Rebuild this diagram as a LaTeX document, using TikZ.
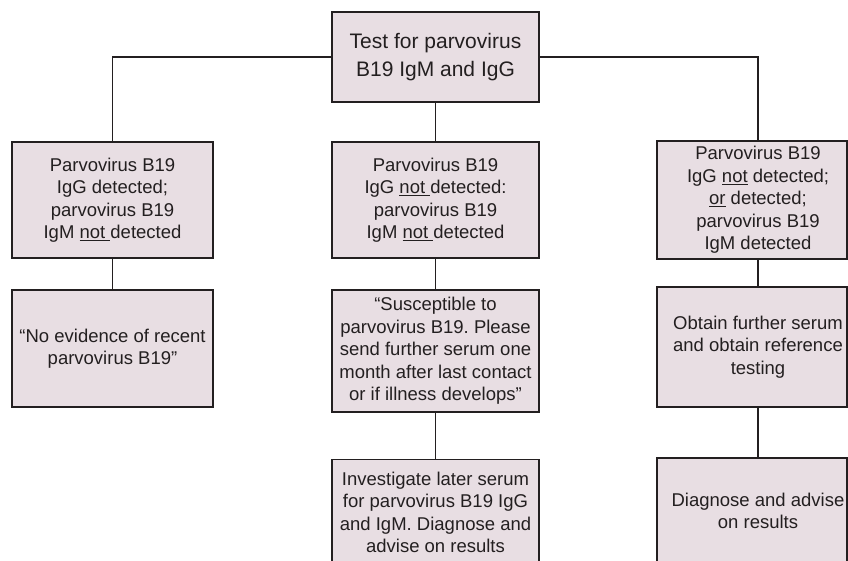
\documentclass[tikz,border=0pt]{standalone}
\usepackage{fontspec}
\setmainfont{Liberation Sans}
\definecolor{boxfill}{RGB}{232,222,227}
\definecolor{ink}{RGB}{35,31,32}
\frenchspacing
\begin{document}
\begin{tikzpicture}[x=1pt,y=-1pt,
  box/.style={draw=ink,fill=boxfill,line width=1.6pt,inner sep=0pt,align=center,text=ink,
    font=\fontsize{18.5}{22.5}\selectfont},
  txt/.style={inner sep=0pt,align=center,text=ink,font=\fontsize{18.5}{22.5}\selectfont},
  link/.style={draw=ink,line width=1.5pt}]
\useasboundingbox (0,0) rectangle (848,560);
\clip (0,0) rectangle (848,560);
% top
\node[box,minimum width=207pt,minimum height=90pt,font=\fontsize{21}{27.5}\selectfont]
  (top) at (435.5,57) {Test for parvovirus\\B19 IgM and IgG};
% left column
\node[box,minimum width=201pt,minimum height=116pt] (l1) at (112.5,200)
  {Parvovirus B19\\IgG detected;\\parvovirus B19\\IgM \underline{not\ }detected};
\node[box,minimum width=201pt,minimum height=117pt] (l2) at (112.5,348.5)
  {\char"201C No evidence of recent\\parvovirus B19\char"201D};
% middle column
\node[box,minimum width=207pt,minimum height=116pt] (m1) at (435.5,200)
  {Parvovirus B19\\IgG \underline{not\ }detected:\\parvovirus B19\\IgM \underline{not\ }detected};
\node[box,minimum width=207pt,minimum height=122pt] (m2) at (435.5,351)
  {\char"201C Susceptible to\\parvovirus B19. Please\\send further serum one\\month after last contact\\or if illness develops\char"201D};
\node[box,minimum width=207pt,minimum height=106pt] (m3) at (435.5,512.5)
  {Investigate later serum\\for parvovirus B19 IgG\\and IgM. Diagnose and\\advise on results};
% right column
\node[box,minimum width=190pt,minimum height=118pt] (r1) at (752,200) {};
\node[txt] (r1t) at (758,200)
  {Parvovirus B19\\IgG \underline{not} detected;\\\underline{or} detected;\\parvovirus B19\\IgM detected};
\node[box,minimum width=190pt,minimum height=120pt] (r2) at (752,347) {};
\node[txt] (r2t) at (758,347) {Obtain further serum\\and obtain reference\\testing};
\node[box,minimum width=190pt,minimum height=106pt] (r3) at (752,511) {};
\node[txt] (r3t) at (758,511) {Diagnose and advise\\on results};
% connectors
\draw[link] (top.west) -| (l1.north);
\draw[link] (top.east) -| (r1.north -| r1t);
\draw[link] (top.south) -- (m1.north);
\draw[link] (l1.south) -- (l2.north);
\draw[link] (m1.south) -- (m2.north);
\draw[link] (m2.south) -- (m3.north);
\draw[link] (r1.south -| r1t) -- (r2.north -| r1t);
\draw[link] (r2.south -| r1t) -- (r3.north -| r1t);
\end{tikzpicture}
\end{document}
